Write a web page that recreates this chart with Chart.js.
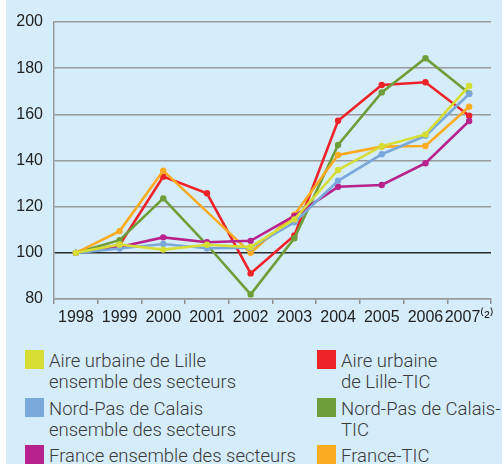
<!DOCTYPE html>
<html lang="fr">
<head>
<meta charset="UTF-8">
<title>Indices 1998-2007</title>
<script src="https://cdn.jsdelivr.net/npm/chart.js"></script>
<style>
  html, body { margin: 0; padding: 0; background: #fff; }
  #panel { position: absolute; left: 6px; top: 0; width: 496px; height: 464px; background: #d5edfa; overflow: hidden; }
  #wrap { position: absolute; left: 0; top: 0; width: 502px; height: 330px; }
  .item { position: absolute; font-family: Roboto, "Liberation Sans", sans-serif; font-weight: 300; font-size: 18.5px; line-height: 21px; color: #3a3a3a; }
  .sw { position: absolute; left: 0; top: -1px; width: 19px; height: 19px; }
  .txt { position: absolute; left: 24px; top: 0; white-space: nowrap; }
</style>
</head>
<body>
<div id="panel"></div>
<div id="wrap"><canvas id="chart"></canvas></div>
<div id="legend"></div>

<script>
// années (le label 2007 porte le renvoi (2))
const years = ['1998', '1999', '2000', '2001', '2002', '2003', '2004', '2005', '2006', '2007⁽²⁾'];
const yTicks = [80, 100, 120, 140, 160, 180, 200];

// indices base 100 en 1998
const lilleAll   = [100, 103.6, 101.4, 103.5, 102.5, 114.5, 135.9, 146.2, 151.3, 172.3];
const lilleTic   = [100, 103.4, 133.0, 125.8, 91.1, 107.5, 157.2, 172.7, 173.9, 159.4];
const npcAll     = [100, 101.9, 103.8, 102.0, 102.2, 113.2, 131.2, 142.7, 150.7, 168.8];
const npcTic     = [100, 105.5, 123.6, 103.5, 82.0, 106.3, 146.7, 169.5, 184.3, 169.1];
const franceAll  = [100, 102.5, 106.7, 104.6, 105.2, 116.0, 128.6, 129.4, 138.8, 157.1];
const franceTic  = [100, 109.4, 135.6, null, 100.0, 116.5, 142.4, 146.0, 146.3, 163.3];

const legendLeft  = [['Aire urbaine de Lille', 'ensemble des secteurs'], ['Nord-Pas de Calais', 'ensemble des secteurs'], ['France ensemble des secteurs']];
const legendRight = [['Aire urbaine', 'de Lille-TIC'], ['Nord-Pas de Calais-', 'TIC'], ['France-TIC']];

const cYellow = '#d6dd33';
const cRed    = '#ee2229';
const cBlue   = '#7aa8da';
const cGreen  = '#6e9e38';
const cPurple = '#b8228c';
const cOrange = '#fbab22';

function ds(label, data, color) {
    return {
        label: label, data: data,
        borderColor: color, backgroundColor: color,
        borderWidth: 2.6, pointRadius: 3.2, pointHoverRadius: 3.2,
        pointBorderWidth: 0, tension: 0, spanGaps: true
    };
}

const axisFont = { family: "'Liberation Sans Narrow', 'Arial Narrow', 'Liberation Sans', sans-serif", size: 16 };

new Chart(document.getElementById('chart'), {
    type: 'line',
    data: {
        labels: years,
        datasets: [
            ds('Aire urbaine de Lille ensemble des secteurs', lilleAll, cYellow),
            ds('Nord-Pas de Calais ensemble des secteurs', npcAll, cBlue),
            ds('France ensemble des secteurs', franceAll, cPurple),
            ds('France-TIC', franceTic, cOrange),
            ds('Nord-Pas de Calais-TIC', npcTic, cGreen),
            ds('Aire urbaine de Lille-TIC', lilleTic, cRed)
        ]
    },
    options: {
        responsive: true,
        maintainAspectRatio: false,
        animation: false,
        layout: { padding: { top: 22, right: 11, left: 0, bottom: 0 } },
        plugins: { legend: { display: false }, tooltip: { enabled: false } },
        scales: {
            x: {
                offset: true,
                grid: { drawOnChartArea: false, drawTicks: true, tickLength: 5, color: '#8f8f8f', lineWidth: 1.5, offset: true },
                border: { color: '#9a9a9a', width: 1.5 },
                ticks: { color: '#222', font: axisFont, padding: 4, maxRotation: 0, autoSkip: false },
                afterFit: function (s) { s.height = 31; }
            },
            y: {
                min: 80, max: 200,
                afterBuildTicks: function (s) { s.ticks = yTicks.map(v => ({ value: v })); },
                grid: {
                    drawTicks: false,
                    color: ctx => ctx.tick && ctx.tick.value === 100 ? '#2b2b2b' : '#9a9a9a',
                    lineWidth: 1.5
                },
                border: { color: '#9a9a9a', width: 1.5 },
                ticks: { color: '#222', font: axisFont, padding: 11 },
                afterFit: function (s) { s.width = 54; }
            }
        }
    }
});

// légende en deux colonnes
const legendEl = document.getElementById('legend');
const rowTops = [351, 399, 446];
function addItems(items, colors, left) {
    items.forEach((lines, i) => {
        const d = document.createElement('div');
        d.className = 'item';
        d.style.left = left + 'px';
        d.style.top = rowTops[i] + 'px';
        d.innerHTML = '<div class="sw" style="background:' + colors[i] + '"></div><div class="txt">' + lines.join('<br>') + '</div>';
        legendEl.appendChild(d);
    });
}
addItems(legendLeft, [cYellow, cBlue, cPurple], 25);
addItems(legendRight, [cRed, cGreen, cOrange], 317);
</script>
</body>
</html>
